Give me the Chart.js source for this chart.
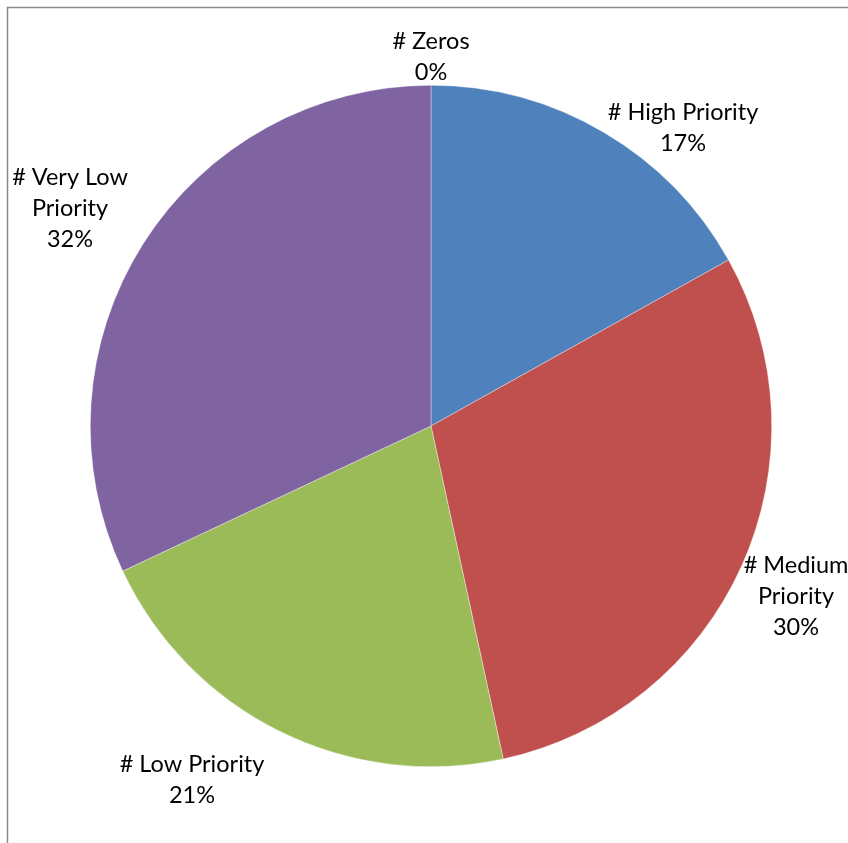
<!DOCTYPE html>
<html>
<head>
<meta charset="utf-8">
<script src="https://cdn.jsdelivr.net/npm/chart.js@4.4.1/dist/chart.umd.min.js"></script>
<style>
    html, body { margin: 0; padding: 0; background: #fff; }
    #wrap { position: relative; width: 848px; height: 843px; }
</style>
</head>
<body>
<div id="wrap"><canvas id="pie" width="848" height="843"></canvas></div>
<script>
// Data (clockwise from 12 o'clock)
const categories = ['# High Priority', '# Medium Priority', '# Low Priority', '# Very Low Priority', '# Zeros'];
const values = [16.9, 29.7, 21.4, 32.0, 0];
const percentLabels = ['17%', '30%', '21%', '32%', '0%'];
const sliceColors = ['#4F81BD', '#C0504D', '#9BBB59', '#8064A2', '#4BACC6'];

// Label text split into lines, and where each label block sits (centre, px)
const labelLines = [
    ['# High Priority'],
    ['# Medium', 'Priority'],
    ['# Low Priority'],
    ['# Very Low', 'Priority'],
    ['# Zeros']
];
const labelCenters = [[683, 128], [796, 596], [192, 780], [70, 208], [431, 57]];

const FONT = '23.5px Lato, "Open Sans", sans-serif';
const LINE_H = 31;

// Grey frame like the Excel chart border (only top/left visible)
const framePlugin = {
    id: 'frame',
    beforeDraw(chart) {
        const ctx = chart.ctx;
        ctx.save();
        ctx.fillStyle = '#fff';
        ctx.fillRect(0, 0, chart.width, chart.height);
        ctx.strokeStyle = '#8a8a8a';
        ctx.lineWidth = 1.5;
        ctx.beginPath();
        ctx.moveTo(7.5, chart.height);
        ctx.lineTo(7.5, 7.5);
        ctx.lineTo(chart.width, 7.5);
        ctx.stroke();
        ctx.restore();
    }
};

// Category + percentage labels outside the pie
const labelPlugin = {
    id: 'sliceLabels',
    afterDraw(chart) {
        const ctx = chart.ctx;
        ctx.save();
        ctx.font = FONT;
        ctx.fillStyle = '#000';
        ctx.textAlign = 'center';
        ctx.textBaseline = 'middle';
        labelLines.forEach((lines, i) => {
            const all = lines.concat([percentLabels[i]]);
            const [cx, cy] = labelCenters[i];
            const top = cy - (all.length - 1) * LINE_H / 2;
            all.forEach((txt, j) => ctx.fillText(txt, cx, top + j * LINE_H));
        });
        ctx.restore();
    }
};

new Chart(document.getElementById('pie'), {
    type: 'pie',
    data: {
        labels: categories,
        datasets: [{
            data: values,
            backgroundColor: sliceColors,
            borderColor: 'rgba(255,255,255,0.6)',
            borderWidth: 0.6
        }]
    },
    options: {
        responsive: false,
        animation: false,
        layout: { padding: { left: 90, right: 76, top: 85, bottom: 76 } },
        plugins: {
            legend: { display: false },
            tooltip: { enabled: false }
        }
    },
    plugins: [framePlugin, labelPlugin]
});
</script>
</body>
</html>
